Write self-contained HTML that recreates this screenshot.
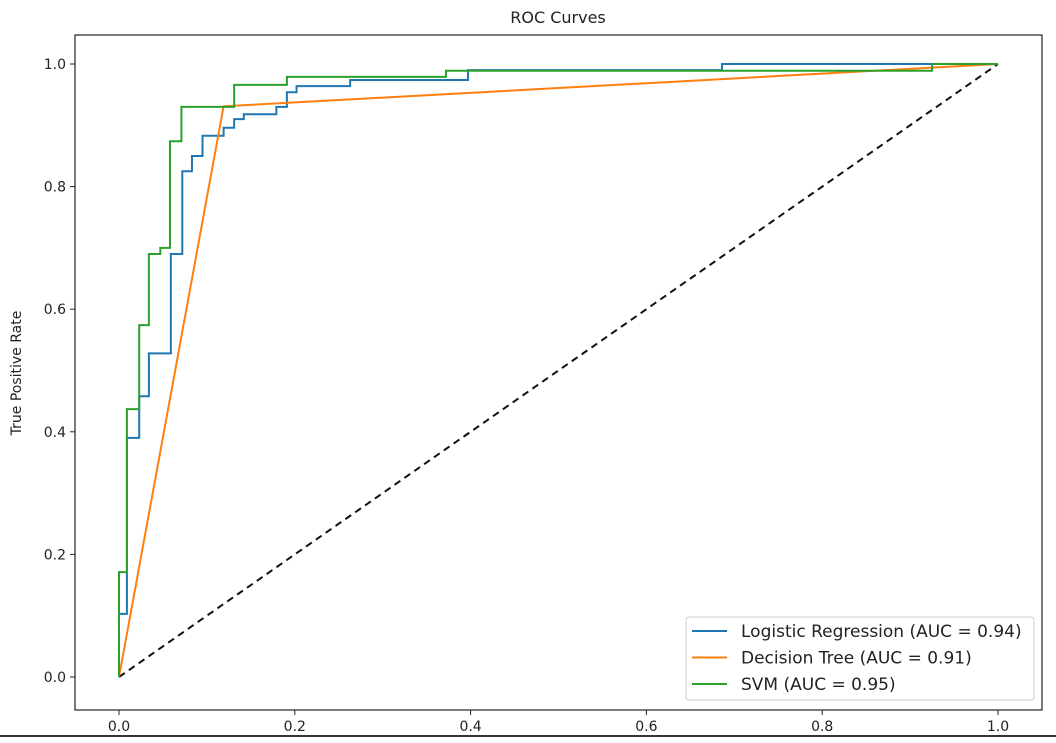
<!DOCTYPE html>
<html><head><meta charset="utf-8"><style>
body{margin:0;background:#fff;font-family:"Liberation Sans","DejaVu Sans",sans-serif;}
svg text{font-family:"DejaVu Sans","Liberation Sans",sans-serif;}
</style></head><body>
<svg id="c" width="1056" height="738" xmlns="http://www.w3.org/2000/svg">
<rect x="0" y="0" width="1056" height="738" fill="#fff"/>
<text x="558" y="23" font-size="16" text-anchor="middle" fill="#222">ROC Curves</text>
<text transform="translate(21,373) rotate(-90)" font-size="14" text-anchor="middle" fill="#222">True Positive Rate</text>
<g id="ticks"></g>
<g id="series"></g>
<rect x="75" y="35" width="967" height="675" fill="none" stroke="#222" stroke-width="1.2"/>
<g>
<rect x="686" y="617" width="348" height="83" rx="3" fill="#fff" stroke="#ccc"/>
<g id="legend"></g>
</g>
<line x1="0" y1="736" x2="1056" y2="736" stroke="#333" stroke-width="2"/>
</svg>
<script>
const xTicks=[0,0.2,0.4,0.6,0.8,1.0];
const yTicks=[0,0.2,0.4,0.6,0.8,1.0];
const seriesNames=["Logistic Regression (AUC = 0.94)","Decision Tree (AUC = 0.91)","SVM (AUC = 0.95)"];
const seriesColors=["#1f77b4","#ff7f0e","#2ca02c"];
const lrFpr=[0,0,0.009,0.009,0.023,0.023,0.034,0.034,0.059,0.059,0.072,0.072,0.083,0.083,0.095,0.095,0.119,0.119,0.131,0.131,0.142,0.142,0.179,0.179,0.191,0.191,0.202,0.202,0.263,0.263,0.397,0.397,0.686,0.686,1];
const lrTpr=[0,0.103,0.103,0.39,0.39,0.458,0.458,0.528,0.528,0.69,0.69,0.825,0.825,0.85,0.85,0.883,0.883,0.896,0.896,0.91,0.91,0.918,0.918,0.93,0.93,0.954,0.954,0.964,0.964,0.974,0.974,0.99,0.99,1,1];
const dtFpr=[0,0.119,1];
const dtTpr=[0,0.931,1];
const svmFpr=[0,0,0.009,0.009,0.023,0.023,0.034,0.034,0.047,0.047,0.058,0.058,0.071,0.071,0.131,0.131,0.191,0.191,0.372,0.372,0.925,0.925,1];
const svmTpr=[0,0.171,0.171,0.437,0.437,0.574,0.574,0.69,0.69,0.70,0.70,0.874,0.874,0.93,0.93,0.966,0.966,0.979,0.979,0.989,0.989,1,1];
const X=v=>119+v*879, Y=v=>677-v*613;
const NS="http://www.w3.org/2000/svg";
function mk(t,a,p){const e=document.createElementNS(NS,t);for(const k in a)e.setAttribute(k,a[k]);p.appendChild(e);return e;}
const tk=document.getElementById('ticks');
xTicks.forEach(v=>{
 const l=mk('line',{x1:X(v),x2:X(v),y1:710,y2:715,stroke:'#222'},tk);
 
 
 const t=mk('text',{x:X(v),y:731,'font-size':14,'text-anchor':'middle',fill:'#222'},tk);t.textContent=v.toFixed(1);
 
 
});
yTicks.forEach(v=>{
 const l=mk('line',{x1:70,x2:75,y1:Y(v),y2:Y(v),stroke:'#222'},tk);
 
 
 const t=mk('text',{x:66,y:Y(v)+5,'font-size':14,'text-anchor':'end',fill:'#222'},tk);t.textContent=v.toFixed(1);
 
 
});
const sg=document.getElementById('series');
const diag=mk('line',{x1:X(0),y1:Y(0),x2:X(1),y2:Y(1),stroke:'#111','stroke-width':2,'stroke-dasharray':'7,5'},sg);


const data=[[lrFpr,lrTpr,'logistic-regression-curve'],[dtFpr,dtTpr,'decision-tree-curve'],[svmFpr,svmTpr,'svm-curve']];
data.forEach((d,i)=>{
 const pts=d[0].map((x,j)=>X(x)+','+Y(d[1][j])).join(' ');
 const p=mk('polyline',{points:pts,fill:'none',stroke:seriesColors[i],'stroke-width':2},sg);
 
 
});
const lg=document.getElementById('legend');
seriesNames.forEach((n,i)=>{
 const y=631+i*26.5;
 const l=mk('line',{x1:692,x2:727,y1:y,y2:y,stroke:seriesColors[i],'stroke-width':2},lg);
 
 
 const t=mk('text',{x:741,y:y+6,'font-size':17,fill:'#222'},lg);t.textContent=n;
 
 
});
</script>
</body></html>
